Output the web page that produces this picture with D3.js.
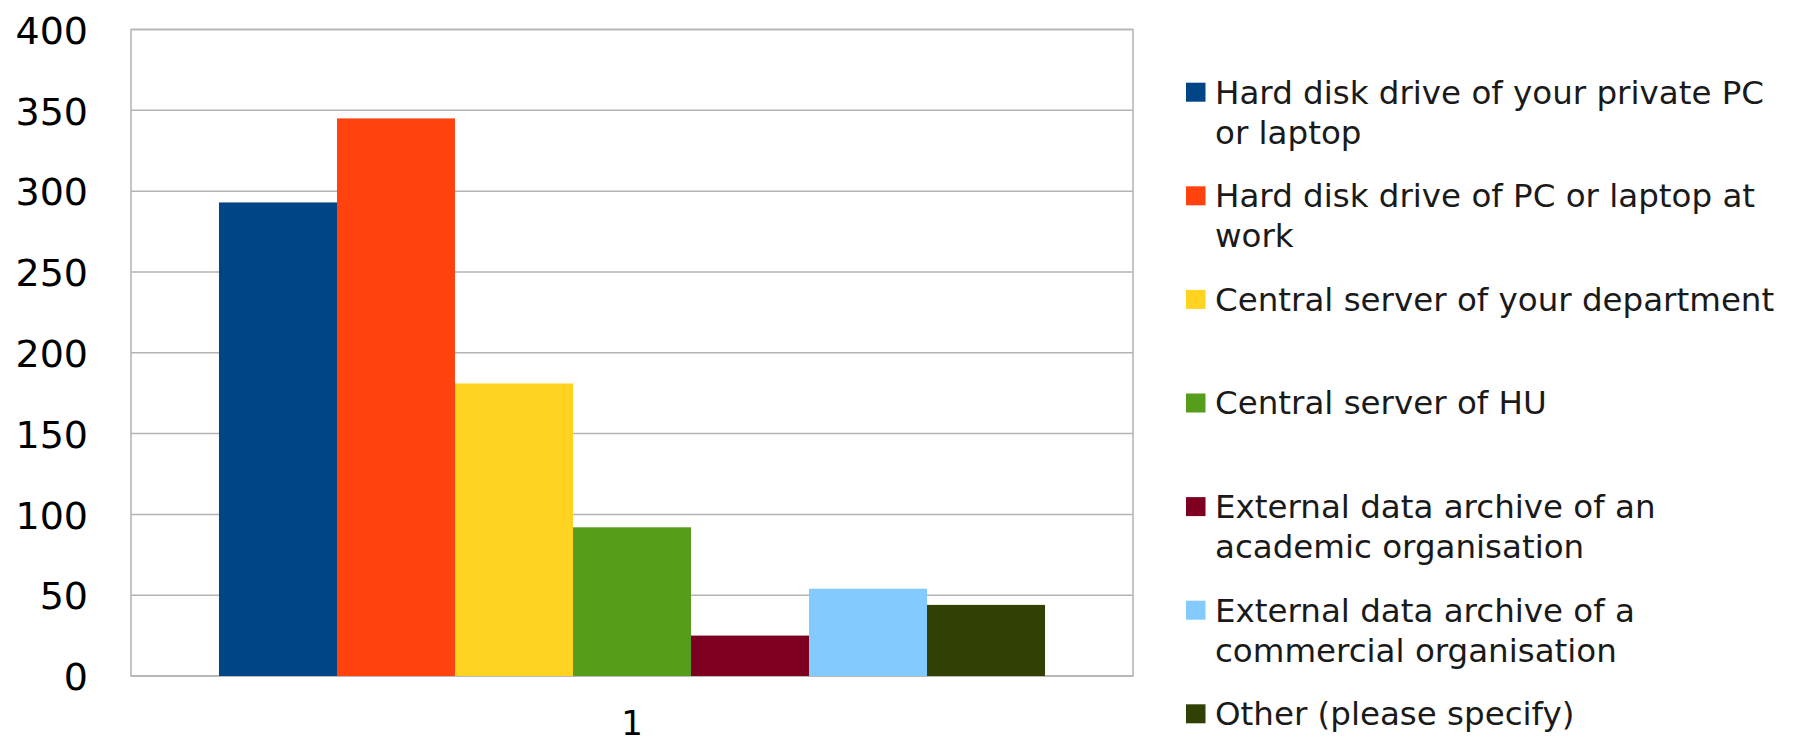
<!DOCTYPE html>
<html>
<head>
<meta charset="utf-8">
<script src="https://cdn.jsdelivr.net/npm/d3@7"></script>
<style>
  html, body { margin: 0; padding: 0; background: #ffffff; }
  svg { display: block; }
  text { font-family: "DejaVu Sans", Verdana, sans-serif; }
</style>
</head>
<body>
<svg id="chart" width="1795" height="743"></svg>
<script>
// ---- data ----
const categories = ["1"];
const seriesNames = [
  "Hard disk drive of your private PC or laptop",
  "Hard disk drive of PC or laptop at work",
  "Central server of your department",
  "Central server of HU",
  "External data archive of an academic organisation",
  "External data archive of a commercial organisation",
  "Other (please specify)"
];
const seriesValues = [293, 345, 181, 92, 25, 54, 44];
const seriesColors = ["#004586", "#ff420e", "#ffd320", "#579d1c", "#7e0021", "#83caff", "#314004"];
const yTicks = [0, 50, 100, 150, 200, 250, 300, 350, 400];

// ---- layout ----
const svg = d3.select("#chart");
const plot = { left: 131, right: 1133, top: 29.5, bottom: 676 };

const x0 = d3.scaleBand().domain(categories)
  .range([plot.left, plot.right]).paddingInner(0).paddingOuter(0.1065);
const x1 = d3.scaleBand().domain(seriesNames)
  .range([0, x0.bandwidth()]).padding(0);
const y = d3.scaleLinear().domain([0, 400]).range([plot.bottom, plot.top]);

// gridlines
svg.append("g").selectAll("line").data(yTicks).join("line")
  .attr("x1", plot.left).attr("x2", plot.right)
  .attr("y1", d => y(d)).attr("y2", d => y(d))
  .attr("stroke", "#b3b3b3").attr("stroke-width", 1.5);

// frame
svg.append("rect")
  .attr("x", plot.left).attr("y", y(400))
  .attr("width", plot.right - plot.left).attr("height", y(0) - y(400))
  .attr("fill", "none").attr("stroke", "#b3b3b3").attr("stroke-width", 1.5);

// bars
const rows = categories.map((c) => ({ cat: c, vals: seriesNames.map((s, i) => ({ s, v: seriesValues[i], c: seriesColors[i] })) }));
svg.append("g").selectAll("g").data(rows).join("g")
  .attr("transform", d => `translate(${x0(d.cat)},0)`)
  .selectAll("rect").data(d => d.vals).join("rect")
  .attr("x", d => x1(d.s)).attr("width", x1.bandwidth())
  .attr("y", d => y(d.v)).attr("height", d => y(0) - y(d.v))
  .attr("fill", d => d.c);

// y axis labels
const yAxis = d3.axisLeft(y).tickValues(yTicks).tickSize(0).tickPadding(0).tickFormat(d3.format("d"));
const gy = svg.append("g").attr("transform", "translate(88,0)").call(yAxis);
gy.select(".domain").remove();
gy.selectAll("text").attr("font-size", 38).attr("fill", "#000").attr("font-family", "DejaVu Sans").attr("dy", "0.36em");

// x axis label
const xAxis = d3.axisBottom(x0).tickSize(0).tickPadding(0);
const gx = svg.append("g").attr("transform", `translate(0,${plot.bottom})`).call(xAxis);
gx.select(".domain").remove();
gx.selectAll("text").attr("font-size", 34).attr("fill", "#000").attr("font-family", "DejaVu Sans")
  .attr("dy", null).attr("y", 59);

// legend
const legendX = 1186, firstBaseline = 103.5, legendStep = 103.6, lineH = 40, maxW = 580;
const leg = svg.append("g");
seriesNames.forEach((name, i) => {
  const base = firstBaseline + i * legendStep;
  leg.append("rect").attr("x", legendX).attr("y", base - 20.8).attr("width", 19.5).attr("height", 19)
    .attr("fill", seriesColors[i]);
  const t = leg.append("text").attr("font-size", 32.5).attr("fill", "#1a1a1a");
  const words = name.split(" ");
  let line = [], lineNo = 0;
  let tspan = t.append("tspan").attr("x", legendX + 29).attr("y", base);
  words.forEach(w => {
    line.push(w);
    tspan.text(line.join(" "));
    if (tspan.node().getComputedTextLength() > maxW && line.length > 1) {
      line.pop();
      tspan.text(line.join(" "));
      line = [w];
      lineNo++;
      tspan = t.append("tspan").attr("x", legendX + 29).attr("y", base + lineNo * lineH).text(w);
    }
  });
});
</script>
</body>
</html>
